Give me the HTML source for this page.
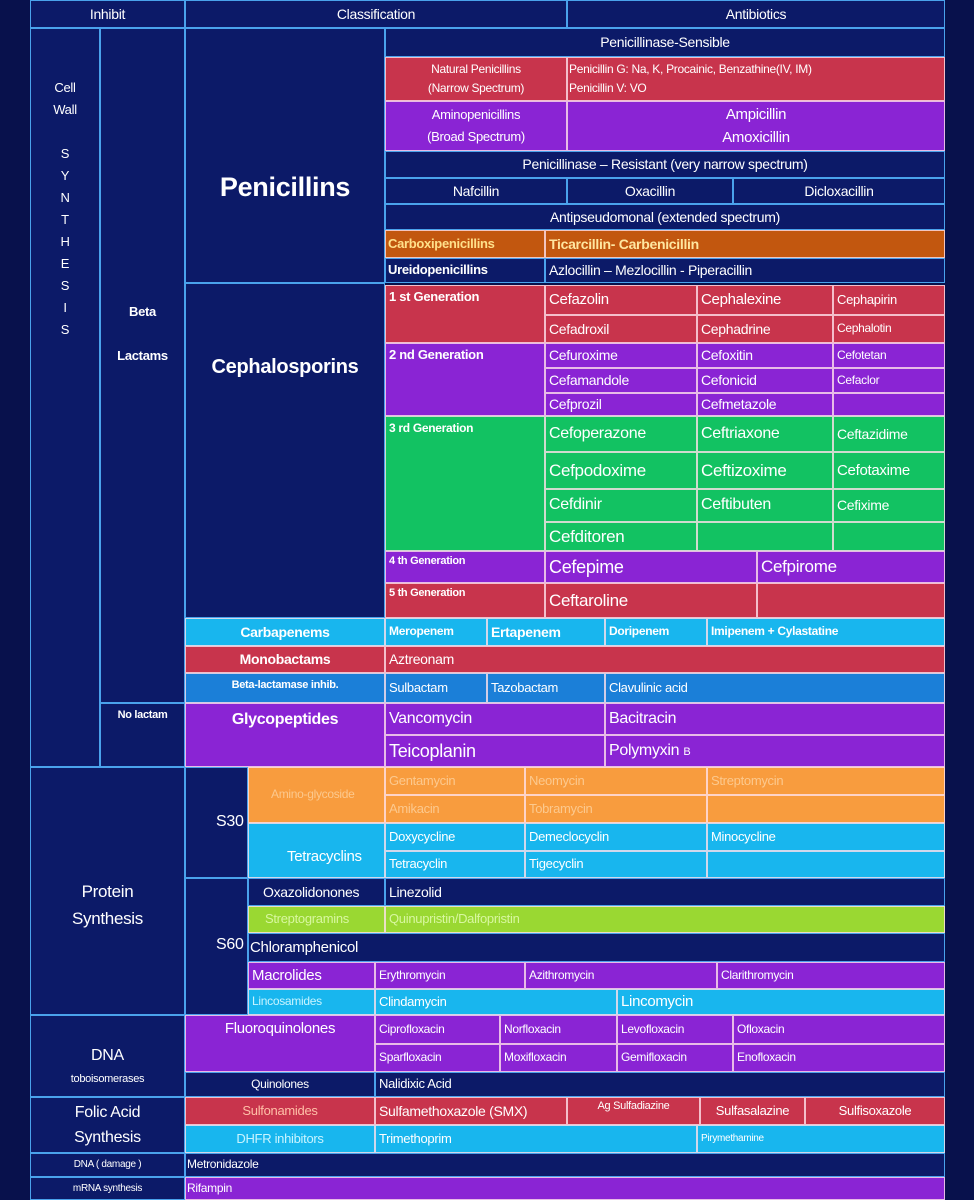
<!DOCTYPE html>
<html><head><meta charset="utf-8">
<style>
html,body{margin:0;padding:0;}
body{width:974px;height:1200px;background:#08114c;position:relative;overflow:hidden;font-family:"Liberation Sans",sans-serif;}
.c{position:absolute;box-sizing:border-box;display:flex;align-items:center;color:#fff;white-space:nowrap;overflow:hidden;line-height:1.15;letter-spacing:-0.3px;}
</style></head>
<body>
<div id="root"></div>
<script>
var NAVY='#0c1a68', RED='#c8344c', PUR='#8a24d4', ORB='#c2570f', GRN='#12c262', CYA='#18b6ee', BLU='#1b7fd8', ORA='#f89c3e', LIM='#9ad832';
var root=document.getElementById('root');
function c(x,y,w,h,bg,text,o){
  o=o||{};
  var d=document.createElement('div');
  d.className='c';
  d.style.left=x+'px';d.style.top=y+'px';d.style.width=(w)+'px';d.style.height=(h)+'px';
  d.style.background=bg;
  d.style.border='1.5px solid '+(bg===NAVY?'#4aa2ec':'rgba(255,225,235,0.8)');
  d.style.fontSize=(o.fs||13)+'px';
  if(o.b) d.style.fontWeight='bold';
  if(o.col) d.style.color=o.col;
  d.style.justifyContent=o.al==='c'?'center':'flex-start';
  d.style.textAlign=o.al==='c'?'center':'left';
  if(o.top){d.style.alignItems='flex-start';d.style.paddingTop=o.top+'px';}
  d.style.paddingLeft=(o.al==='c'?0:(o.pl!==undefined?o.pl:3))+'px';
  if(o.lh) d.style.lineHeight=o.lh;
  d.innerHTML='<span>'+(text||'')+'</span>';
  var nm=o.name||((text||'empty-cell').replace(/<[^>]+>/g,' ').toLowerCase().replace(/[^a-z0-9]+/g,'-').replace(/^-|-$/g,'').slice(0,30)||'empty-cell');
  
  
  root.appendChild(d);
  return d;
}
// header
c(30,0,155,28,NAVY,'Inhibit',{al:'c',fs:14});
c(185,0,382,28,NAVY,'Classification',{al:'c',fs:14});
c(567,0,378,28,NAVY,'Antibiotics',{al:'c',fs:14});
// left columns
c(30,28,70,739,NAVY,'Cell<br>Wall<br><br>S<br>Y<br>N<br>T<br>H<br>E<br>S<br>I<br>S',{al:'c',fs:13,top:48,lh:'22px',name:'cell-wall-synthesis'});
c(100,28,85,675,NAVY,'Beta<br><br>Lactams',{al:'c',fs:13,b:1,top:272,lh:'22px',name:'beta-lactams'});
c(100,703,85,64,NAVY,'No lactam',{al:'c',fs:11,b:1,top:5});
c(185,28,200,255,NAVY,'Penicillins',{al:'c',fs:27,b:1,top:143});
c(185,283,200,335,NAVY,'Cephalosporins',{al:'c',fs:20,b:1,top:72});
// penicillins
c(385,28,560,29,NAVY,'Penicillinase-Sensible',{al:'c',fs:14});
c(385,57,182,44,RED,'Natural Penicillins<br>(Narrow Spectrum)',{al:'c',fs:12,lh:'19px'});
c(567,57,378,44,RED,'Penicillin G: Na, K, Procainic, Benzathine(IV, IM)<br>Penicillin V: VO',{fs:12,pl:1,lh:'19px'});
c(385,101,182,50,PUR,'Aminopenicillins<br>(Broad Spectrum)',{al:'c',fs:13,lh:'22px'});
c(567,101,378,50,PUR,'Ampicillin<br>Amoxicillin',{al:'c',fs:15,lh:'23px'});
c(385,151,560,27,NAVY,'Penicillinase – Resistant (very narrow spectrum)',{al:'c',fs:14});
c(385,178,182,26,NAVY,'Nafcillin',{al:'c',fs:14});
c(567,178,166,26,NAVY,'Oxacillin',{al:'c',fs:14});
c(733,178,212,26,NAVY,'Dicloxacillin',{al:'c',fs:14});
c(385,204,560,26,NAVY,'Antipseudomonal (extended spectrum)',{al:'c',fs:14});
c(385,230,160,28,ORB,'Carboxipenicillins',{fs:13,b:1,col:'#ffe08a',pl:2});
c(545,230,400,28,ORB,'Ticarcillin- Carbenicillin',{fs:14,b:1,col:'#ffe6a0'});
c(385,258,160,25,NAVY,'Ureidopenicillins',{fs:13,b:1,pl:2});
c(545,258,400,25,NAVY,'Azlocillin – Mezlocillin - Piperacillin',{fs:14});
// cephalosporins
var X=[385,545,697,833,945];
function row(y,h,bg,vals,fs){for(var i=0;i<3;i++){c(X[i+1],y,X[i+2]-X[i+1],h,bg,vals[i],{fs:(i==2?fs-2:fs)});}}
c(385,285,160,58,RED,'1 st Generation',{fs:13,b:1,top:4});
row(285,30,RED,['Cefazolin','Cephalexine','Cephapirin'],15);
row(315,28,RED,['Cefadroxil','Cephadrine','Cephalotin'],14);
c(385,343,160,73,PUR,'2 nd Generation',{fs:13,b:1,top:4});
row(343,25,PUR,['Cefuroxime','Cefoxitin','Cefotetan'],14);
row(368,25,PUR,['Cefamandole','Cefonicid','Cefaclor'],14);
row(393,23,PUR,['Cefprozil','Cefmetazole',''],14);
c(385,416,160,135,GRN,'3 rd Generation',{fs:12,b:1,top:5});
row(416,36,GRN,['Cefoperazone','Ceftriaxone','Ceftazidime'],16);
row(452,37,GRN,['Cefpodoxime','Ceftizoxime','Cefotaxime'],17);
row(489,33,GRN,['Cefdinir','Ceftibuten','Cefixime'],16);
row(522,29,GRN,['Cefditoren','',''],17);
c(385,551,160,32,PUR,'4 th Generation',{fs:11,b:1,top:3});
c(545,551,212,32,PUR,'Cefepime',{fs:18});
c(757,551,188,32,PUR,'Cefpirome',{fs:17});
c(385,583,160,35,RED,'5 th Generation',{fs:11,b:1,top:3});
c(545,583,212,35,RED,'Ceftaroline',{fs:17});
c(757,583,188,35,RED,'',{name:'empty-5th-gen-cell'});
// carbapenems etc
c(185,618,200,28,CYA,'Carbapenems',{al:'c',fs:14,b:1});
c(385,618,102,28,CYA,'Meropenem',{fs:12,b:1});
c(487,618,118,28,CYA,'Ertapenem',{fs:14,b:1});
c(605,618,102,28,CYA,'Doripenem',{fs:12,b:1});
c(707,618,238,28,CYA,'Imipenem + Cylastatine',{fs:12,b:1});
c(185,646,200,27,RED,'Monobactams',{al:'c',fs:14,b:1});
c(385,646,560,27,RED,'Aztreonam',{fs:14});
c(185,673,200,30,BLU,'Beta-lactamase inhib.',{al:'c',fs:11,b:1,top:5});
c(385,673,102,30,BLU,'Sulbactam',{fs:13});
c(487,673,118,30,BLU,'Tazobactam',{fs:13});
c(605,673,340,30,BLU,'Clavulinic acid',{fs:13});
c(185,703,200,64,PUR,'Glycopeptides',{al:'c',fs:16,b:1,top:7});
c(385,703,220,32,PUR,'Vancomycin',{fs:16});
c(605,703,340,32,PUR,'Bacitracin',{fs:16});
c(385,735,220,32,PUR,'Teicoplanin',{fs:18});
c(605,735,340,32,PUR,'Polymyxin <span style="font-size:11px">B</span>',{fs:16});
// protein synthesis
c(30,767,155,248,NAVY,'Protein<br>Synthesis',{al:'c',fs:17,lh:'27px',top:110});
c(185,767,63,111,NAVY,'S30',{fs:16,pl:30});
c(185,878,63,137,NAVY,'S60',{fs:16,pl:30,top:57});
var Y=[385,525,707,945];
function row2(y,h,bg,vals,col){for(var i=0;i<3;i++){c(Y[i],y,Y[i+1]-Y[i],h,bg,vals[i],{fs:13,col:col});}}
c(248,767,137,56,ORA,'Amino-glycoside',{fs:12,pl:22,col:'#fcc98e'});
row2(767,28,ORA,['Gentamycin','Neomycin','Streptomycin'],'#fcc98e');
row2(795,28,ORA,['Amikacin','Tobramycin',''],'#fcc98e');
c(248,823,137,55,CYA,'Tetracyclins',{fs:15,pl:38,top:24});
row2(823,28,CYA,['Doxycycline','Demeclocyclin','Minocycline']);
row2(851,27,CYA,['Tetracyclin','Tigecyclin','']);
c(248,878,137,28,NAVY,'Oxazolidonones',{fs:14,pl:14});
c(385,878,560,28,NAVY,'Linezolid',{fs:14});
c(248,906,137,27,LIM,'Streptogramins',{fs:13,pl:16,col:'#d8f7a0'});
c(385,906,560,27,LIM,'Quinupristin/Dalfopristin',{fs:13,col:'#d8f7a0'});
c(248,933,697,29,NAVY,'Chloramphenicol',{fs:15,pl:1});
c(248,962,127,27,PUR,'Macrolides',{fs:15});
c(375,962,150,27,PUR,'Erythromycin',{fs:12});
c(525,962,192,27,PUR,'Azithromycin',{fs:12});
c(717,962,228,27,PUR,'Clarithromycin',{fs:12});
c(248,989,127,26,CYA,'Lincosamides',{fs:12,col:'#c8f4ff'});
c(375,989,242,26,CYA,'Clindamycin',{fs:13});
c(617,989,328,26,CYA,'Lincomycin',{fs:15});
// DNA
c(30,1015,155,82,NAVY,'DNA<br><span style="font-size:11px">toboisomerases</span>',{al:'c',fs:16,lh:'22px',top:29,name:'dna-topoisomerases'});
c(185,1015,190,57,PUR,'Fluoroquinolones',{al:'c',fs:15,top:4});
var Z=[375,500,617,733,945];
function row3(y,h,vals){for(var i=0;i<4;i++){c(Z[i],y,Z[i+1]-Z[i],h,PUR,vals[i],{fs:12});}}
row3(1015,29,['Ciprofloxacin','Norfloxacin','Levofloxacin','Ofloxacin']);
row3(1044,28,['Sparfloxacin','Moxifloxacin','Gemifloxacin','Enofloxacin']);
c(185,1072,190,25,NAVY,'Quinolones',{al:'c',fs:12});
c(375,1072,570,25,NAVY,'Nalidixic Acid',{fs:13});
// folic
c(30,1097,155,56,NAVY,'Folic Acid<br>Synthesis',{al:'c',fs:16,lh:'25px',name:'folic-acid-synthesis'});
c(185,1097,190,28,RED,'Sulfonamides',{al:'c',fs:13,col:'#ffc0a8'});
c(375,1097,192,28,RED,'Sulfamethoxazole (SMX)',{fs:14});
c(567,1097,133,28,RED,'Ag Sulfadiazine',{al:'c',fs:11,top:2});
c(700,1097,105,28,RED,'Sulfasalazine',{al:'c',fs:13});
c(805,1097,140,28,RED,'Sulfisoxazole',{al:'c',fs:13});
c(185,1125,190,28,CYA,'DHFR inhibitors',{al:'c',fs:13,col:'#c8f4ff'});
c(375,1125,322,28,CYA,'Trimethoprim',{fs:13});
c(697,1125,248,28,CYA,'Pirymethamine',{fs:10});
c(30,1153,155,24,NAVY,'DNA ( damage )',{al:'c',fs:10});
c(185,1153,760,24,NAVY,'Metronidazole',{fs:12,pl:1});
c(30,1177,155,23,NAVY,'mRNA synthesis',{al:'c',fs:10});
c(185,1177,760,23,PUR,'Rifampin',{fs:12,pl:1});
</script>
</body></html>
